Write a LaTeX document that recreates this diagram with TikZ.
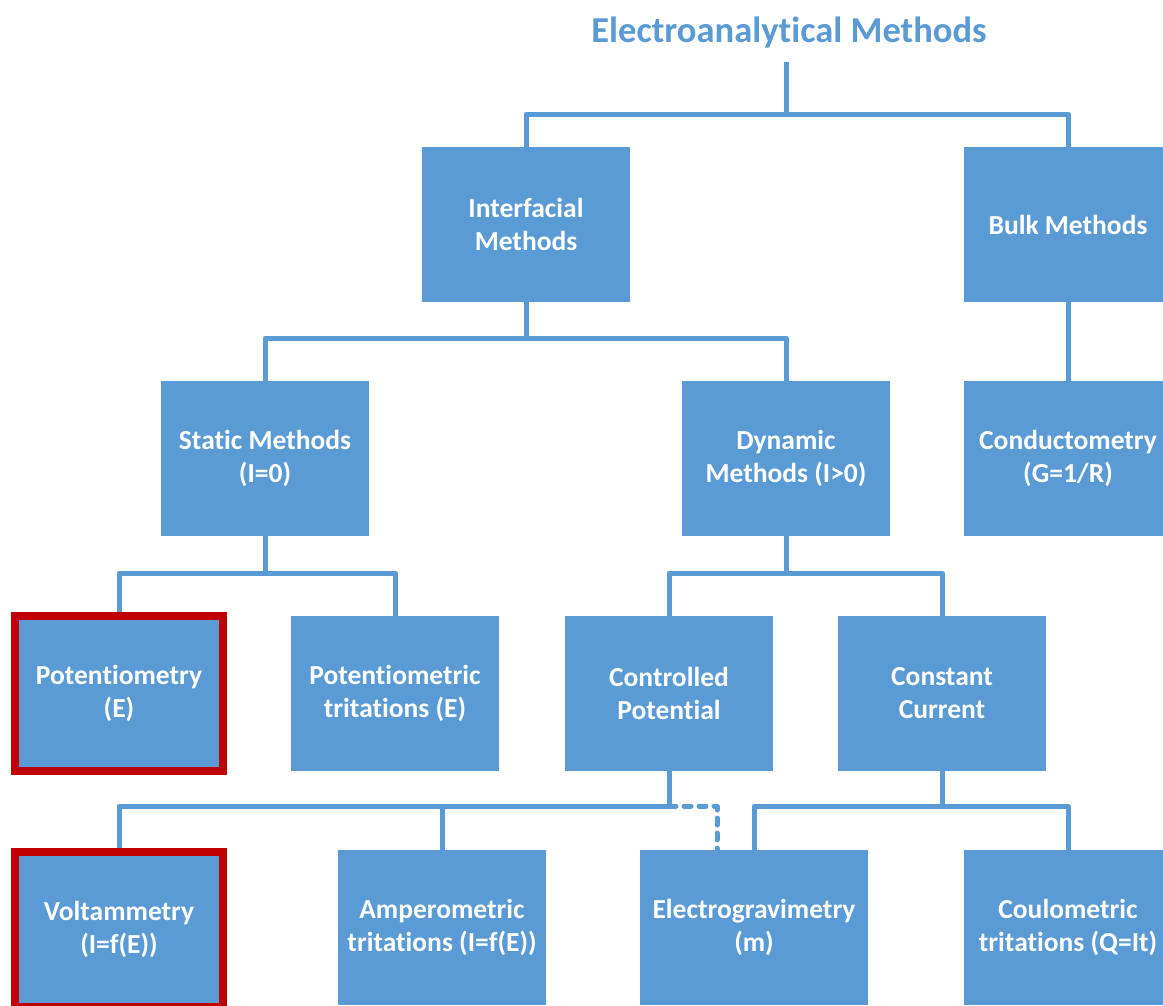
\documentclass[tikz,border=0pt]{standalone}
\usepackage{fontspec}
\setmainfont{Carlito}[Ligatures={NoCommon}]
\definecolor{boxblue}{HTML}{5B9BD5}
\definecolor{hilite}{HTML}{C00000}
\tikzset{
  box/.style={rectangle, fill=boxblue, text=white, align=center,
    minimum width=208pt, minimum height=155pt, inner sep=2pt,
    font=\bfseries\fontsize{27.5}{33}\selectfont},
  redbox/.style={box, draw=hilite, line width=8pt},
  conn/.style={draw=boxblue, line width=5pt, line join=round},
  dconn/.style={conn, dash pattern=on 7pt off 8pt, line cap=round},
  titletext/.style={text=boxblue, font=\bfseries\fontsize{36.5}{40}\selectfont}
}
\begin{document}
\begin{tikzpicture}[x=1pt,y=-1pt]
\useasboundingbox (0,0) rectangle (1163,1005);
\clip (0,0) rectangle (1163,1005);
% title
\node[titletext] (title) at (789,33) {Electroanalytical Methods};
\coordinate (t0) at (786,62);
% nodes
\node[box] (interf) at (526,224.5) {Interfacial\\Methods};
\node[box] (bulk) at (1068,224.5) {Bulk Methods};
\node[box] (static) at (265,458.5) {Static Methods\\(I=0)};
\node[box] (dynamic) at (786,458.5) {Dynamic\\Methods (I>0)};
\node[box] (conduct) at (1068,458.5) {Conductometry\\(G=1/R)};
\node[redbox] (potentio) at (119,693.5) {Potentiometry\\(E)};
\node[box] (pottit) at (395,693.5) {Potentiometric\\tritations (E)};
\node[box] (controlled) at (669,693.5) {Controlled\\Potential};
\node[box] (constant) at (942,693.5) {Constant\\Current};
\node[redbox] (voltam) at (119,929.5) {Voltammetry\\(I=f(E))};
\node[box] (amper) at (442,927.5) {Amperometric\\tritations (I=f(E))};
\node[box, minimum width=228pt] (egrav) at (754,927.5) {Electrogravimetry\\(m)};
\node[box] (coulo) at (1068,927.5) {Coulometric\\tritations (Q=It)};
% connectors
\draw[conn] (t0) -- (786,114) coordinate (j1) -| (interf.north);
\draw[conn] (j1) -| (bulk.north);
\draw[conn] (interf.south) -- (526,338) coordinate (j2) -| (static.north);
\draw[conn] (j2) -| (dynamic.north);
\draw[conn] (bulk.south) -- (conduct.north);
\draw[conn] (static.south) -- (265,573) coordinate (j3) -| (potentio.north);
\draw[conn] (j3) -| (pottit.north);
\draw[conn] (dynamic.south) -- (786,573) coordinate (j4) -| (controlled.north);
\draw[conn] (j4) -| (constant.north);
\draw[conn] (controlled.south) -- (669,806) coordinate (j5) -| (voltam.north);
\draw[conn] (j5) -| (amper.north);
\coordinate (eg) at ([xshift=-37pt]egrav.north);
\draw[dconn] (j5) -| (eg);
\draw[conn] (constant.south) -- (942,806) coordinate (j6) -| (egrav.north);
\draw[conn] (j6) -| (coulo.north);
\end{tikzpicture}
\end{document}
